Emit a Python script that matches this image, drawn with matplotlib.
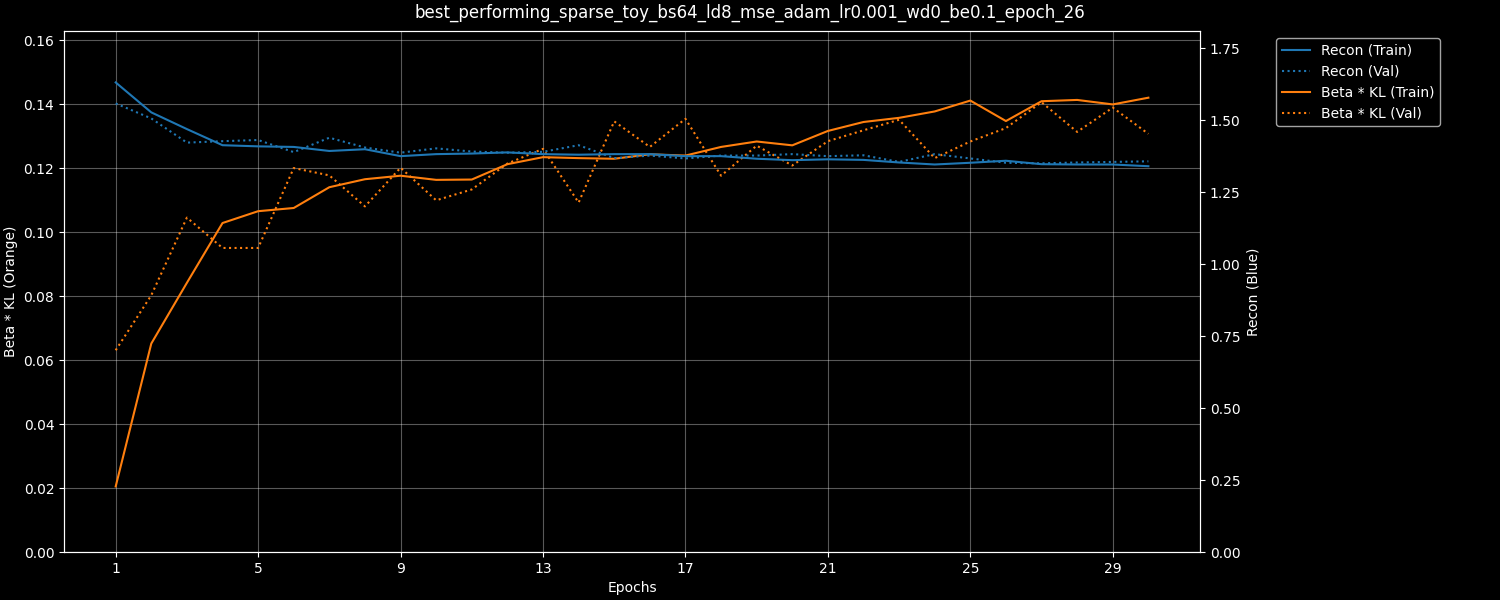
import numpy as np
import matplotlib
matplotlib.use("Agg")
import matplotlib.pyplot as plt

plt.style.use("dark_background")

epochs = np.arange(1, 31)

recon_train = [1.631, 1.527, 1.469, 1.413, 1.409, 1.407, 1.393, 1.399, 1.375, 1.382,
               1.384, 1.388, 1.382, 1.380, 1.382, 1.382, 1.375, 1.375, 1.366, 1.361,
               1.364, 1.362, 1.353, 1.346, 1.352, 1.359, 1.347, 1.346, 1.346, 1.340]
recon_val = [1.558, 1.506, 1.422, 1.427, 1.431, 1.389, 1.439, 1.405, 1.387, 1.402,
             1.391, 1.387, 1.390, 1.413, 1.368, 1.377, 1.367, 1.377, 1.377, 1.382,
             1.375, 1.378, 1.355, 1.382, 1.367, 1.352, 1.350, 1.353, 1.355, 1.357]
kl_train = [0.0205, 0.0652, 0.0842, 0.1029, 0.1066, 0.1076, 0.1141, 0.1166, 0.1177, 0.1164,
            0.1165, 0.1213, 0.1235, 0.1232, 0.1230, 0.1244, 0.1240, 0.1267, 0.1284, 0.1272,
            0.1317, 0.1345, 0.1358, 0.1378, 0.1412, 0.1348, 0.1410, 0.1414, 0.1400, 0.1421]
kl_val = [0.0631, 0.0803, 0.1046, 0.0951, 0.0951, 0.1201, 0.1178, 0.1081, 0.1202, 0.1100,
          0.1134, 0.1215, 0.1261, 0.1093, 0.1347, 0.1267, 0.1355, 0.1177, 0.1271, 0.1209,
          0.1285, 0.1319, 0.1352, 0.1232, 0.1284, 0.1326, 0.1407, 0.1314, 0.1390, 0.1308]

title = "best_performing_sparse_toy_bs64_ld8_mse_adam_lr0.001_wd0_be0.1_epoch_26"

fig, ax1 = plt.subplots(figsize=(15, 6), dpi=100)
ax2 = ax1.twinx()

l1, = ax2.plot(epochs, recon_train, "-", color="#1f77b4", label="Recon (Train)")
l2, = ax2.plot(epochs, recon_val, ":", color="#1f77b4", label="Recon (Val)")
l3, = ax1.plot(epochs, kl_train, "-", color="#ff7f0e", label="Beta * KL (Train)")
l4, = ax1.plot(epochs, kl_val, ":", color="#ff7f0e", label="Beta * KL (Val)")

ax1.set_ylim(0, 0.1629)
ax2.set_ylim(0, 1.809)
ax1.set_xticks(np.arange(1, 31, 4))
ax1.set_xlabel("Epochs")
ax1.set_ylabel("Beta * KL (Orange)")
ax2.set_ylabel("Recon (Blue)")
ax1.grid(True, alpha=0.35)
fig.suptitle(title, fontsize=12, y=0.993)

ax2.legend(handles=[l1, l2, l3, l4], loc="upper left", bbox_to_anchor=(1.061, 1))

plt.subplots_adjust(left=0.0427, right=0.8, bottom=0.08, top=0.948)
plt.savefig("out.png")
